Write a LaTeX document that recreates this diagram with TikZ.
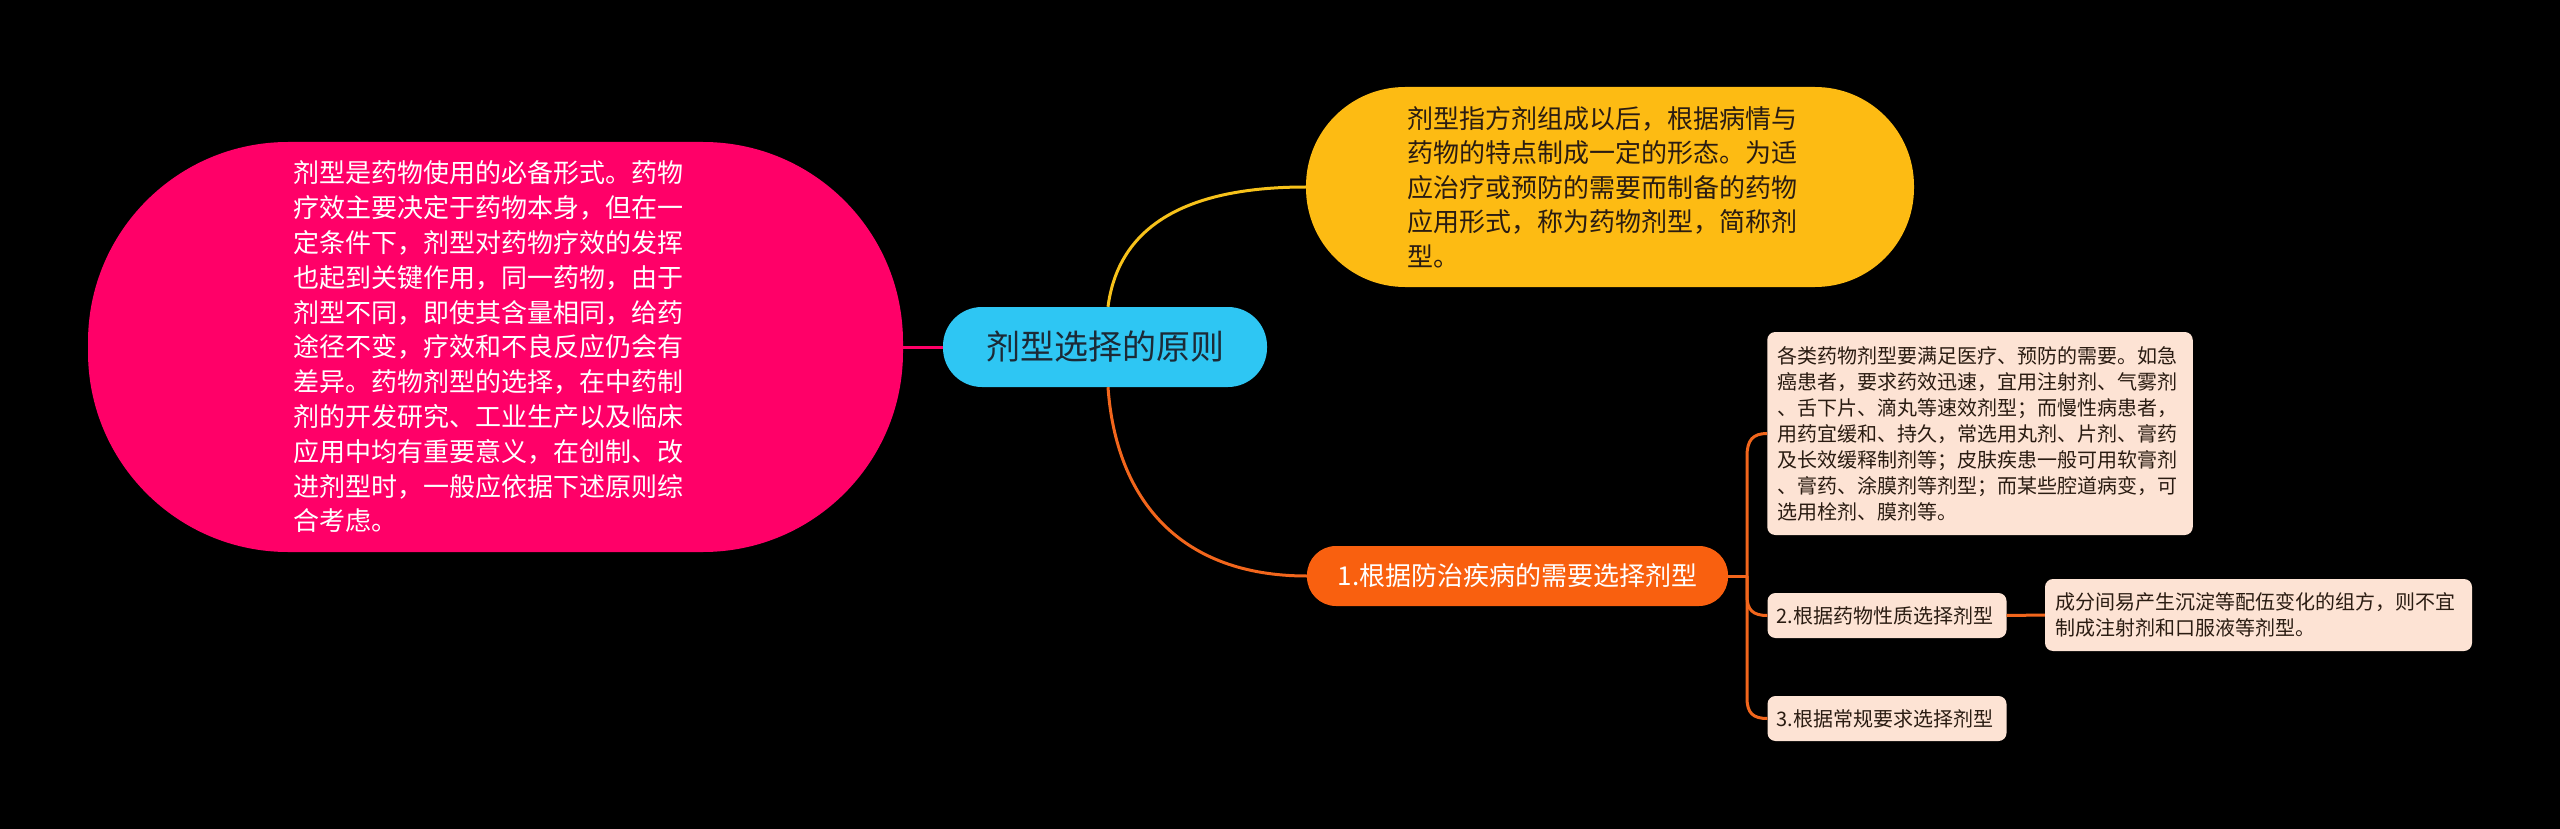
\documentclass[tikz,border=0pt]{standalone}
\usepackage{fontspec}
\setmainfont{Noto Sans CJK SC}
\definecolor{cpink}{HTML}{FF0068}
\definecolor{cyel}{HTML}{FDBB13}
\definecolor{cyelline}{HTML}{F7C21A}
\definecolor{ccyan}{HTML}{2EC6F3}
\definecolor{corg}{HTML}{F9600F}
\definecolor{corgline}{HTML}{F2661C}
\definecolor{cpeach}{HTML}{FDE3D4}
\definecolor{cdark}{HTML}{2A1C12}
\definecolor{cnavy}{HTML}{1C2A36}
\tikzset{
  conn/.style={line width=3pt},
  pinkbox/.style={fill=cpink, rounded corners=200pt, minimum width=815pt, minimum height=410pt,
    inner sep=0pt, text=white, font=\fontsize{26}{34.8}\selectfont, align=left, text width=404pt},
  yelbox/.style={fill=cyel, rounded corners=99pt, minimum width=608pt, minimum height=200pt,
    inner sep=0pt, text=cdark, font=\fontsize{26}{34.6}\selectfont, align=left, text width=406pt},
  rootbox/.style={fill=ccyan, rounded corners=39pt, minimum width=324pt, minimum height=80pt,
    inner sep=0pt, text=cnavy, font=\fontsize{34}{40}\selectfont},
  orgbox/.style={fill=corg, rounded corners=29pt, minimum width=421pt, minimum height=60pt,
    inner sep=0pt, text=white, font=\fontsize{26}{32}\selectfont},
  peachbox/.style={fill=cpeach, rounded corners=8pt, inner sep=0pt, text=cdark,
    font=\fontsize{20}{26}\selectfont, align=left},
}
\begin{document}
\begin{tikzpicture}[x=1pt,y=-1pt]
\useasboundingbox (0,0) rectangle (2560,829);
\fill[black] (0,0) rectangle (2560,829);

\node[rootbox] (root) at (1105,347) {剂型选择的原则};

\node[pinkbox] (pink) at (495.5,347) {剂型是药物使用的必备形式。药物\\疗效主要决定于药物本身，但在一\\定条件下，剂型对药物疗效的发挥\\也起到关键作用，同一药物，由于\\剂型不同，即使其含量相同，给药\\途径不变，疗效和不良反应仍会有\\差异。药物剂型的选择，在中药制\\剂的开发研究、工业生产以及临床\\应用中均有重要意义，在创制、改\\进剂型时，一般应依据下述原则综\\合考虑。};

\node[yelbox] (yel) at (1610,187) {剂型指方剂组成以后，根据病情与\\药物的特点制成一定的形态。为适\\应治疗或预防的需要而制备的药物\\应用形式，称为药物剂型，简称剂\\型。};

\node[orgbox] (org) at (1517.5,576) {1.根据防治疾病的需要选择剂型};

\node[peachbox, minimum width=425.5pt, minimum height=203pt, text width=406pt] (boxA) at (1980,433.5)
{各类药物剂型要满足医疗、预防的需要。如急\\癌患者，要求药效迅速，宜用注射剂、气雾剂\\、舌下片、滴丸等速效剂型；而慢性病患者，\\用药宜缓和、持久，常选用丸剂、片剂、膏药\\及长效缓释制剂等；皮肤疾患一般可用软膏剂\\、膏药、涂膜剂等剂型；而某些腔道病变，可\\选用栓剂、膜剂等。};

\node[peachbox, minimum width=239pt, minimum height=45pt, text width=221pt] (boxB) at (1887,615.5) {2.根据药物性质选择剂型};
\node[peachbox, minimum width=239pt, minimum height=45pt, text width=221pt] (boxC) at (1887,718.5) {3.根据常规要求选择剂型};

\node[peachbox, minimum width=427pt, minimum height=72pt, text width=407pt] (boxD) at (2258.5,615)
{成分间易产生沉淀等配伍变化的组方，则不宜\\制成注射剂和口服液等剂型。};

% connectors
\draw[conn, cpink] (pink.east) -- (root.west);
\draw[conn, cyelline] ([xshift=3pt]root.north) .. controls (1118,230) and (1180,187) .. (yel.west);
\draw[conn, corgline] ([xshift=3pt]root.south) .. controls (1116,500) and (1180,576) .. (org.west);

\coordinate (j) at (1747,576);
\draw[conn, corgline] (org.east) -- (j);
\draw[conn, corgline] (j) -- (1747,456) .. controls (1747,440) and (1753,433.5) .. (boxA.west);
\draw[conn, corgline] (j) -- (1747,596) .. controls (1747,610) and (1753,615.5) .. (boxB.west);
\draw[conn, corgline] (j) -- (1747,698) .. controls (1747,713) and (1753,718.5) .. (boxC.west);
\draw[conn, corgline] (boxB.east) -- (boxD.west);
\end{tikzpicture}
\end{document}
